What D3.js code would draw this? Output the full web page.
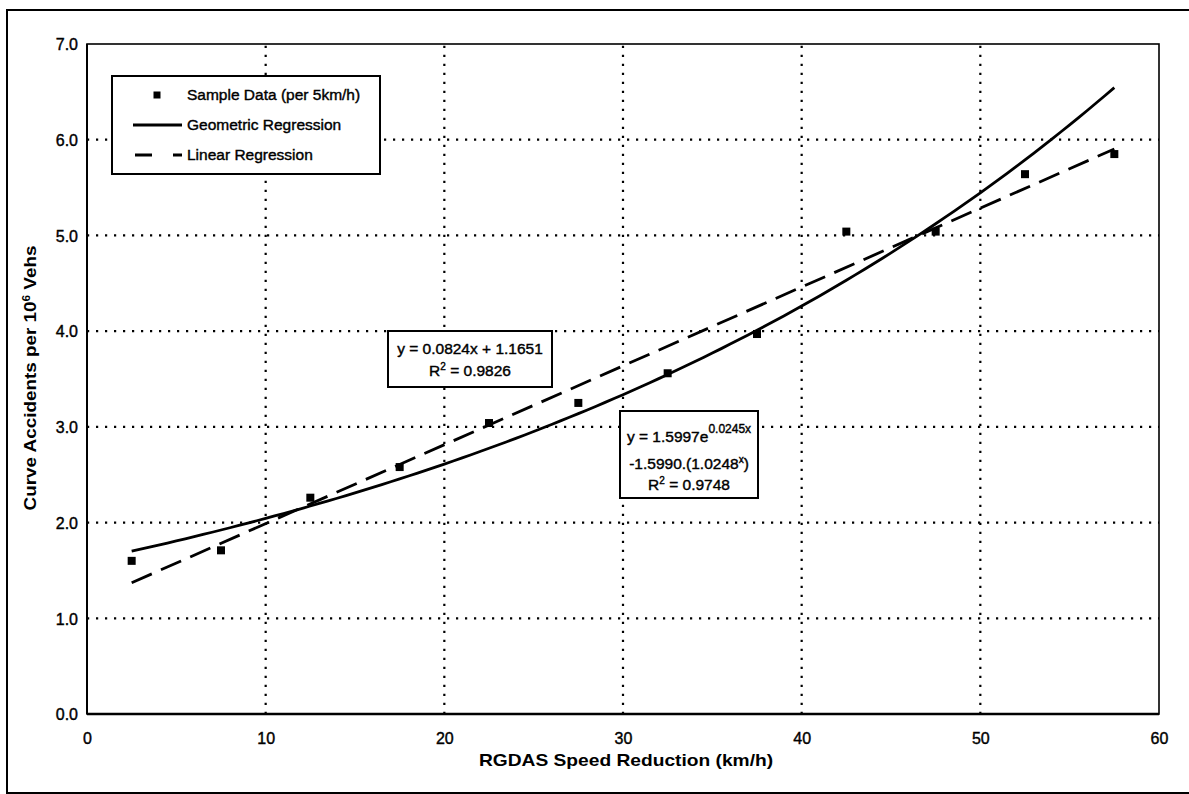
<!DOCTYPE html>
<html>
<head>
<meta charset="utf-8">
<script src="https://cdn.jsdelivr.net/npm/d3@7"></script>
<style>
  html, body { margin: 0; padding: 0; background: #fff; }
  svg { display: block; }
  text { font-family: "Liberation Sans", Arial, Helvetica, sans-serif; fill: #000; }
  text.heavy { stroke: #000; stroke-width: 0.4px; }
</style>
</head>
<body>
<svg id="chart" width="1189" height="794"></svg>
<script>
// Sample data: accident rate per 5 km/h speed-reduction band
const speedReduction = [2.5, 7.5, 12.5, 17.5, 22.5, 27.5, 32.5, 37.5, 42.5, 47.5, 52.5, 57.5];
const accidentRate   = [1.60, 1.71, 2.26, 2.58, 3.04, 3.25, 3.56, 3.97, 5.04, 5.04, 5.64, 5.85];

// Fitted regressions (coefficients as printed on the chart)
const linearFit    = [0.0824, 1.1651];   // slope, intercept
const geometricFit = [1.5997, 0.0245];   // a, b  in  y = a·e^(b·x)

// Axis ticks
const xTicks = [0, 10, 20, 30, 40, 50, 60];
const yTicks = [0, 1, 2, 3, 4, 5, 6, 7];

const legendLabels = ["Sample Data (per 5km/h)", "Geometric Regression", "Linear Regression"];

const svg = d3.select("#chart");

const x = d3.scaleLinear().domain([0, 60]).range([87, 1159]);
const y = d3.scaleLinear().domain([0, 7]).range([714, 44]);

// Outer frame
svg.append("rect")
  .attr("x", 7).attr("y", 10).attr("width", 1200).attr("height", 783)
  .attr("fill", "none").attr("stroke", "#000").attr("stroke-width", 2);

// Dotted gridlines
const grid = svg.append("g").attr("stroke", "#000").attr("stroke-width", 2.2)
  .attr("stroke-dasharray", "2.2,6.8").attr("fill", "none");
yTicks.filter(v => v > 0 && v < 7).forEach(v => {
  grid.append("line").attr("x1", x(0)).attr("x2", x(60)).attr("y1", y(v)).attr("y2", y(v));
});
xTicks.filter(v => v > 0 && v < 60).forEach(v => {
  grid.append("line").attr("x1", x(v)).attr("x2", x(v)).attr("y1", y(0)).attr("y2", y(7));
});

// Plot border
svg.append("rect")
  .attr("x", x(0)).attr("y", y(7)).attr("width", x(60) - x(0)).attr("height", y(0) - y(7))
  .attr("fill", "none").attr("stroke", "#000").attr("stroke-width", 1.6);
svg.append("line").attr("x1", x(0)).attr("x2", x(60)).attr("y1", y(0)).attr("y2", y(0))
  .attr("stroke", "#000").attr("stroke-width", 2.4);
svg.append("line").attr("x1", x(0)).attr("x2", x(0)).attr("y1", y(0)).attr("y2", y(7))
  .attr("stroke", "#000").attr("stroke-width", 2);

// Axes (labels only)
const yAxis = d3.axisLeft(y).tickValues(yTicks).tickSize(0).tickPadding(10).tickFormat(d3.format(".1f"));
const yg = svg.append("g").attr("transform", `translate(${x(0)},0)`).call(yAxis);
yg.select(".domain").remove();
yg.selectAll("text").attr("class", "heavy").attr("font-size", 16)
  .attr("font-family", "Liberation Sans, Arial, sans-serif")
  .attr("dy", "0.36em").attr("x", -9);

const xAxis = d3.axisBottom(x).tickValues(xTicks).tickSize(0).tickPadding(19).tickFormat(d3.format("d"));
const xg = svg.append("g").attr("transform", `translate(0,${y(0)})`).call(xAxis);
xg.select(".domain").remove();
xg.selectAll("text").attr("class", "heavy").attr("font-size", 16)
  .attr("font-family", "Liberation Sans, Arial, sans-serif");

// Regression curves
const xs = d3.range(speedReduction[0], speedReduction[speedReduction.length - 1] + 0.001, 0.5);
const line = d3.line().x(d => x(d[0])).y(d => y(d[1]));

svg.append("path")
  .datum(xs.map(v => [v, geometricFit[0] * Math.exp(geometricFit[1] * v)]))
  .attr("d", line).attr("fill", "none").attr("stroke", "#000").attr("stroke-width", 2.8);

svg.append("path")
  .datum([speedReduction[0], speedReduction[speedReduction.length - 1]].map(v => [v, linearFit[0] * v + linearFit[1]]))
  .attr("d", line).attr("fill", "none").attr("stroke", "#000").attr("stroke-width", 2.8)
  .attr("stroke-dasharray", "22,10");

// Sample points
const ms = 8;
svg.append("g").selectAll("rect").data(speedReduction).join("rect")
  .attr("x", (d) => x(d) - ms / 2)
  .attr("y", (d, i) => y(accidentRate[i]) - ms / 2)
  .attr("width", ms).attr("height", ms).attr("fill", "#000");

// Legend
const lg = svg.append("g");
lg.append("rect").attr("x", 112).attr("y", 76).attr("width", 268).attr("height", 98)
  .attr("fill", "#fff").attr("stroke", "#000").attr("stroke-width", 2);
lg.append("rect").attr("x", 153.5).attr("y", 91.5).attr("width", 7).attr("height", 7).attr("fill", "#000");
lg.append("line").attr("x1", 133).attr("x2", 182).attr("y1", 125).attr("y2", 125)
  .attr("stroke", "#000").attr("stroke-width", 2.8);
lg.append("line").attr("x1", 135).attr("x2", 182).attr("y1", 155).attr("y2", 155)
  .attr("stroke", "#000").attr("stroke-width", 2.8).attr("stroke-dasharray", "17,21");
[99.5, 130, 160].forEach((by, i) => {
  lg.append("text").attr("class", "heavy").attr("x", 187).attr("y", by).attr("font-size", 15.5)
    .text(legendLabels[i]);
});

// Linear regression equation
const lb = svg.append("g");
lb.append("rect").attr("x", 388).attr("y", 331).attr("width", 164).attr("height", 56)
  .attr("fill", "#fff").attr("stroke", "#000").attr("stroke-width", 2);
lb.append("text").attr("class", "heavy").attr("x", 470).attr("y", 354).attr("text-anchor", "middle")
  .attr("font-size", 15.5)
  .text(`y = ${linearFit[0].toFixed(4)}x + ${linearFit[1].toFixed(4)}`);
const r1 = lb.append("text").attr("class", "heavy").attr("x", 470).attr("y", 375.5)
  .attr("text-anchor", "middle").attr("font-size", 15.5);
r1.append("tspan").text("R");
r1.append("tspan").attr("dy", -6).attr("font-size", 10).text("2");
r1.append("tspan").attr("dy", 6).text(" = 0.9826");

// Geometric regression equation
const gb = svg.append("g");
gb.append("rect").attr("x", 620).attr("y", 411).attr("width", 138).attr("height", 87)
  .attr("fill", "#fff").attr("stroke", "#000").attr("stroke-width", 2);
const g1 = gb.append("text").attr("class", "heavy").attr("x", 689).attr("y", 441.5)
  .attr("text-anchor", "middle").attr("font-size", 15.5);
g1.append("tspan").text(`y = ${geometricFit[0].toFixed(4)}e`);
g1.append("tspan").attr("dy", -9).attr("font-size", 12).text(`${geometricFit[1].toFixed(4)}x`);
const g2 = gb.append("text").attr("class", "heavy").attr("x", 689).attr("y", 468.5)
  .attr("text-anchor", "middle").attr("font-size", 15.5);
g2.append("tspan").text("-1.5990.(1.0248");
g2.append("tspan").attr("dy", -6).attr("font-size", 10).text("x");
g2.append("tspan").attr("dy", 6).text(")");
const g3 = gb.append("text").attr("class", "heavy").attr("x", 689).attr("y", 489.5)
  .attr("text-anchor", "middle").attr("font-size", 15.5);
g3.append("tspan").text("R");
g3.append("tspan").attr("dy", -6).attr("font-size", 10).text("2");
g3.append("tspan").attr("dy", 6).text(" = 0.9748");

// Axis titles
svg.append("text")
  .attr("transform", "translate(626,766) scale(1.2,1)")
  .attr("text-anchor", "middle").attr("font-size", 16).attr("font-weight", "bold")
  .text("RGDAS Speed Reduction (km/h)");

const yt = svg.append("text")
  .attr("transform", "translate(36,378) rotate(-90) scale(1.18,1)")
  .attr("text-anchor", "middle").attr("font-size", 16).attr("font-weight", "bold");
yt.append("tspan").text("Curve Accidents per 10");
yt.append("tspan").attr("dy", -6).attr("font-size", 10).text("6");
yt.append("tspan").attr("dy", 6).text(" Vehs");
</script>
</body>
</html>
